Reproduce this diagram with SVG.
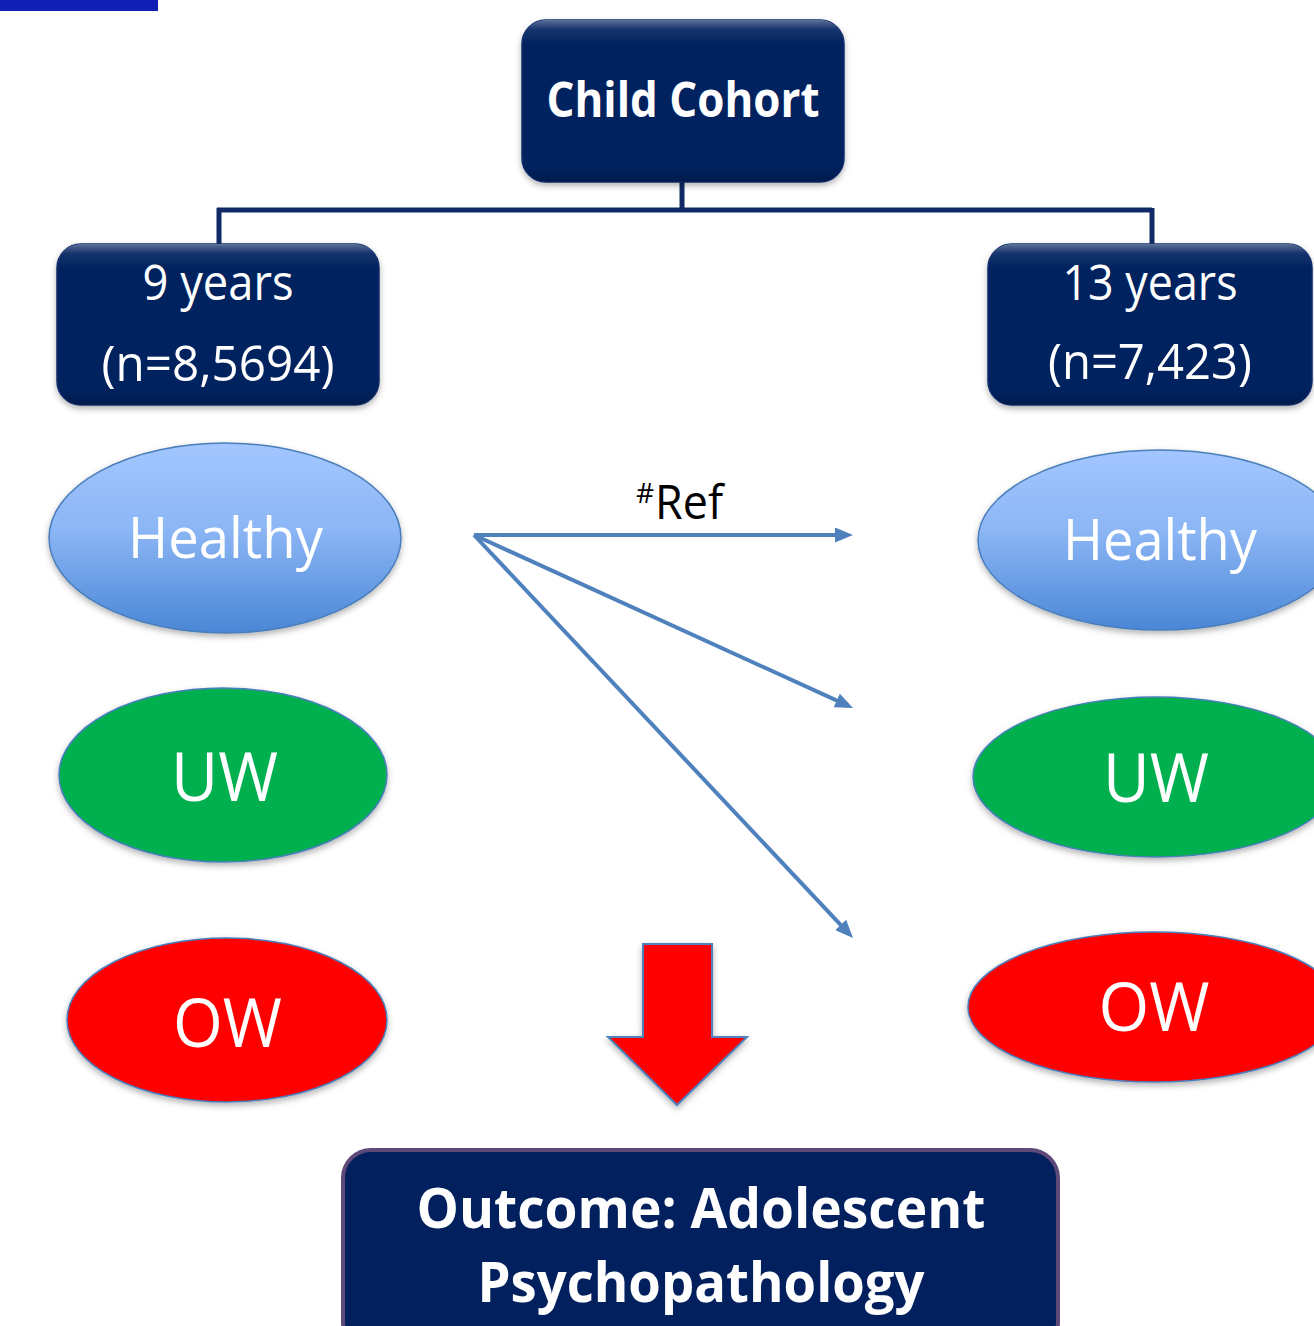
<svg xmlns="http://www.w3.org/2000/svg" width="1314" height="1326" viewBox="0 0 1314 1326">
  <style>
    .box { fill: #02205E; stroke: #0B2B6B; stroke-width: 1.5; }
    .gloss { fill: url(#gloss); }
    .wt { fill: #FFFFFF; font-family: "Open Sans", "Noto Sans", "Liberation Sans", sans-serif; text-anchor: middle; }
    .bold { font-weight: bold; }
    .conn { fill: none; stroke: #0F2A66; stroke-width: 5; }
    .arr { fill: none; stroke: #4F81BD; stroke-width: 4; marker-end: url(#ah); }
    .ell { stroke: #4A7EBB; stroke-width: 1.5; }
  </style>
  <defs>
    <linearGradient id="gloss" x1="0" y1="0" x2="0" y2="1">
      <stop offset="0" stop-color="#FFFFFF" stop-opacity="0.35"/>
      <stop offset="0.06" stop-color="#FFFFFF" stop-opacity="0.08"/>
      <stop offset="0.15" stop-color="#FFFFFF" stop-opacity="0"/>
      <stop offset="0.9" stop-color="#000000" stop-opacity="0"/>
      <stop offset="1" stop-color="#000000" stop-opacity="0.2"/>
    </linearGradient>
    <linearGradient id="hgrad" x1="0" y1="0" x2="0" y2="1">
      <stop offset="0" stop-color="#A3C6FF"/>
      <stop offset="0.45" stop-color="#8CB6F5"/>
      <stop offset="1" stop-color="#4A87D6"/>
    </linearGradient>
    <filter id="sh" x="-10%" y="-10%" width="120%" height="130%">
      <feDropShadow dx="0" dy="3" stdDeviation="3" flood-color="#000000" flood-opacity="0.3"/>
    </filter>
    <marker id="ah" viewBox="0 0 18 15" markerWidth="18" markerHeight="15" markerUnits="userSpaceOnUse" refX="13" refY="7.5" orient="auto">
      <path d="M0,0 L18,7.5 L0,15 z" fill="#4F81BD"/>
    </marker>
  </defs>

  <rect id="topbar" x="0" y="0" width="158" height="11" fill="#111FB5"/>

  <g id="connectors">
    <path class="conn" d="M682,182 V210 M217,210 H1152 M219,208 V245 M1152,208 V245"/>
    <line class="arr" x1="474" y1="535" x2="848" y2="535"/>
    <line class="arr" x1="474" y1="535" x2="848.5" y2="705.9"/>
    <line class="arr" x1="474" y1="535" x2="849.6" y2="934.4"/>
    <path id="bigarrow" d="M643,944 H712 V1037 H747 L677,1105 L608,1037 H643 Z" fill="#FF0000" stroke="#4F81BD" stroke-width="2" filter="url(#sh)"/>
  </g>

  <g id="child-cohort">
    <rect class="box" x="522" y="20" width="322" height="162" rx="24" filter="url(#sh)"/>
    <rect class="gloss" x="522" y="20" width="322" height="162" rx="24"/>
    <text class="wt bold" x="683" y="117" font-size="49" textLength="273" lengthAdjust="spacingAndGlyphs">Child Cohort</text>
  </g>

  <g id="nine-years">
    <rect class="box" x="57" y="244" width="322" height="161" rx="24" filter="url(#sh)"/>
    <rect class="gloss" x="57" y="244" width="322" height="161" rx="24"/>
    <text class="wt" x="218" y="300" font-size="49" textLength="151" lengthAdjust="spacingAndGlyphs">9 years</text>
    <text class="wt" x="218" y="381" font-size="49" textLength="233" lengthAdjust="spacingAndGlyphs">(n=8,5694)</text>
  </g>

  <g id="thirteen-years">
    <rect class="box" x="988" y="244" width="324" height="161" rx="24" filter="url(#sh)"/>
    <rect class="gloss" x="988" y="244" width="324" height="161" rx="24"/>
    <text class="wt" x="1150" y="300" font-size="49" textLength="175" lengthAdjust="spacingAndGlyphs">13 years</text>
    <text class="wt" x="1150" y="379" font-size="49" textLength="204" lengthAdjust="spacingAndGlyphs">(n=7,423)</text>
  </g>

  <g id="healthy-9">
    <ellipse class="ell" cx="225" cy="538" rx="176" ry="95" fill="url(#hgrad)" filter="url(#sh)"/>
    <text class="wt" x="225.5" y="558" font-size="57" textLength="195" lengthAdjust="spacingAndGlyphs">Healthy</text>
  </g>
  <g id="uw-9">
    <ellipse class="ell" cx="223" cy="775" rx="164" ry="87" fill="#00B050" filter="url(#sh)"/>
    <text class="wt" x="224.5" y="801" font-size="67" textLength="107" lengthAdjust="spacingAndGlyphs">UW</text>
  </g>
  <g id="ow-9">
    <ellipse class="ell" cx="227" cy="1020" rx="160" ry="82" fill="#FF0000" filter="url(#sh)"/>
    <text class="wt" x="227.5" y="1047" font-size="67" textLength="109" lengthAdjust="spacingAndGlyphs">OW</text>
  </g>

  <g id="healthy-13">
    <ellipse class="ell" cx="1160" cy="540" rx="182" ry="90" fill="url(#hgrad)" filter="url(#sh)"/>
    <text class="wt" x="1160" y="560" font-size="57" textLength="194" lengthAdjust="spacingAndGlyphs">Healthy</text>
  </g>
  <g id="uw-13">
    <ellipse class="ell" cx="1156" cy="777" rx="183" ry="80" fill="#00B050" filter="url(#sh)"/>
    <text class="wt" x="1156" y="802" font-size="67" textLength="106" lengthAdjust="spacingAndGlyphs">UW</text>
  </g>
  <g id="ow-13">
    <ellipse class="ell" cx="1154" cy="1007" rx="186" ry="75" fill="#FF0000" filter="url(#sh)"/>
    <text class="wt" x="1154" y="1031" font-size="67" textLength="111" lengthAdjust="spacingAndGlyphs">OW</text>
  </g>

  <g id="ref-label">
    <text x="636" y="503" font-size="28" fill="#000000" font-family="Open Sans, Liberation Sans, sans-serif">#</text>
    <text x="655" y="519" font-size="48" fill="#000000" font-family="Open Sans, Liberation Sans, sans-serif" textLength="68" lengthAdjust="spacingAndGlyphs">Ref</text>
  </g>

  <g id="outcome">
    <rect x="343" y="1150" width="715" height="200" rx="28" fill="#02205E" stroke="#5F497A" stroke-width="4"/>
    <text class="wt bold" x="701" y="1228" font-size="55" textLength="569" lengthAdjust="spacingAndGlyphs">Outcome: Adolescent</text>
    <text class="wt bold" x="701" y="1302" font-size="55" textLength="447" lengthAdjust="spacingAndGlyphs">Psychopathology</text>
  </g>
</svg>
